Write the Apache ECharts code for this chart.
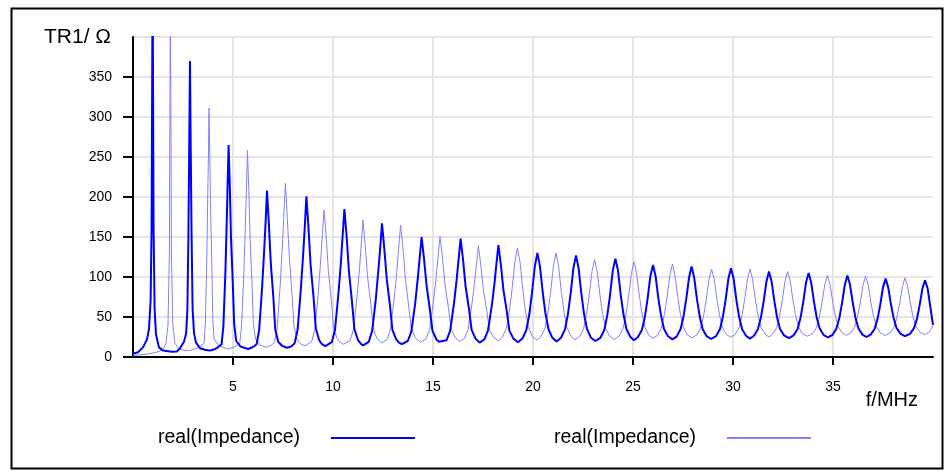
<!DOCTYPE html>
<html>
<head>
<meta charset="utf-8">
<script src="https://cdn.jsdelivr.net/npm/echarts@6/dist/echarts.min.js"></script>
<style>
html,body{margin:0;padding:0;background:#fff;}
#chart{width:946px;height:471px;}
</style>
</head>
<body>
<div id="chart"></div>
<script>
// ---- data ----
const freqTicks = [5, 10, 15, 20, 25, 30, 35];
const seriesNames = ['real(Impedance)', 'real(Impedance) '];
const yAxisTitle = 'TR1/ Ω';
const xAxisTitle = 'f/MHz';

// dark (thick) real(Impedance): [f (MHz), value (Ω)]
const darkPoints = [
[0,4],[0.25,6],[0.5,12],[0.7,22],[0.8,35],[0.88,70],[0.93,160],[0.98,480],[1.03,160],[1.08,60],[1.15,28],[1.3,12],[1.5,8],[1.93,6.5],[2.2,7],
[2.35,11],[2.55,19],[2.66,30],[2.72,60],[2.77,150],[2.81,260],[2.85,370],[2.89,250],[2.93,150],[2.98,60],[3.05,30],[3.15,18],[3.35,11],[3.6,9],[3.83,8],[4.0,9],
[4.18,11],[4.43,16],[4.52,39],[4.62,106],[4.68,162],[4.73,214],[4.78,265],[4.84,214],[4.9,148],[4.99,92],[5.06,41],[5.16,20],[5.38,13],[5.76,10],
[6.0,12.5],[6.18,16],[6.31,34],[6.45,85],[6.55,129],[6.63,168],[6.7,208],[6.79,168],[6.89,117],[7.02,74],[7.11,35],[7.26,19],[7.45,14],[7.7,11.5],
[7.9,13],[8.08,17],[8.23,34],[8.39,84],[8.5,125],[8.59,163],[8.67,201],[8.77,163],[8.88,115],[9.03,74],[9.14,36],[9.31,21],[9.45,16],[9.62,13.5],
[9.94,18.5],[10.1,34],[10.27,79],[10.39,116],[10.48,151],[10.57,185],[10.68,151],[10.8,106],[10.95,69],[11.07,35],[11.25,21],[11.38,17],[11.5,14.5],
[11.79,19],[11.96,33],[12.14,72],[12.26,106],[12.36,136],[12.45,167],[12.56,137],[12.69,97],[12.85,64],[12.97,34],[13.16,22],[13.3,18],[13.45,16],
[13.74,20],[13.92,32],[14.11,67],[14.23,96],[14.33,123],[14.43,150],[14.55,123],[14.68,89],[14.84,60],[14.97,33],[15.17,22],[15.3,19],[15.4,17],
[15.68,21],[15.86,33],[16.05,67],[16.18,96],[16.28,122],[16.38,148],[16.5,122],[16.63,88],[16.8,60],[16.93,34],[17.13,23],[17.33,18],
[17.57,22],[17.75,33],[17.94,64],[18.07,91],[18.17,116],[18.27,140],[18.39,116],[18.52,84],[18.69,57],[18.82,33],[19.02,23],[19.25,18.5],
[19.47,23],[19.67,34],[19.82,54],[19.95,80],[20.09,113],[20.22,130],[20.35,113],[20.49,80],[20.62,55],[20.77,35],[20.97,24],[21.18,19.5],
[21.4,24],[21.6,34.5],[21.75,54],[21.88,79],[22.02,111],[22.15,127],[22.28,111],[22.42,79],[22.55,54],[22.7,35],[22.9,24],[23.12,20],
[23.37,24],[23.57,34],[23.72,53],[23.85,77],[23.99,108],[24.12,123],[24.25,108],[24.39,77],[24.52,54],[24.67,35],[24.87,25],[25.05,21],
[25.25,25],[25.45,34],[25.6,51],[25.73,73],[25.87,101],[26.0,115],[26.13,101],[26.27,73],[26.4,52],[26.55,35],[26.75,26],[26.97,22],
[27.18,25.5],[27.38,35],[27.53,51],[27.66,72],[27.8,99],[27.93,113],[28.06,99],[28.2,72],[28.33,51.5],[28.48,35],[28.68,26],[28.9,22.5],
[29.15,26],[29.35,35],[29.5,51],[29.63,71],[29.77,98],[29.9,111],[30.03,98],[30.17,71],[30.3,51],[30.45,35],[30.65,26.5],[30.85,23],
[31.05,26.5],[31.25,35],[31.4,50],[31.53,69],[31.67,94],[31.8,107],[31.93,94.5],[32.07,69.5],[32.2,50],[32.35,35],[32.55,27],[32.8,23.5],
[33.03,27],[33.23,35],[33.38,49.5],[33.51,68],[33.65,93],[33.78,105],[33.91,93],[34.05,69],[34.18,50],[34.33,36],[34.53,27.5],[34.74,24.5],
[34.97,27.5],[35.17,35.5],[35.32,49],[35.45,67],[35.59,90],[35.72,102],[35.85,90.5],[35.99,67.5],[36.12,49.5],[36.27,36],[36.47,28],[36.67,25],
[36.88,28],[37.08,35],[37.23,48],[37.36,65],[37.5,87],[37.63,98],[37.76,87],[37.9,65.5],[38.03,49],[38.18,36],[38.38,29],[38.6,26],
[38.85,29],[39.05,36],[39.2,48],[39.33,64.5],[39.47,85.5],[39.6,96],[39.73,86],[39.87,62],[40,40]
];

// light (thin) real(Impedance): [f (MHz), value (Ω)]
const lightPoints = [
[0,2],[0.5,3],[1.0,5],[1.3,7],[1.5,10],[1.65,17],[1.75,40],[1.82,130],[1.87,470],[1.92,130],[1.99,40],[2.1,17],[2.3,10],[2.55,8.5],[2.83,8],
[3.3,12],[3.55,17],[3.62,44],[3.69,123],[3.73,190],[3.77,250],[3.8,311],[3.84,251],[3.89,172],[3.95,106],[3.99,46],[4.06,22],[4.3,14],[4.76,10],
[5.1,13],[5.34,17],[5.43,40],[5.54,104],[5.61,159],[5.67,208],[5.72,258],[5.79,209],[5.86,145],[5.95,91],[6.02,41.5],[6.13,22],[6.35,15],[6.67,12],
[6.9,14.5],[7.07,18],[7.21,36.5],[7.36,90],[7.46,135],[7.54,176],[7.62,217],[7.71,176],[7.82,124],[7.95,79],[8.05,38],[8.2,22],[8.4,16],[8.6,14],
[8.93,19],[9.09,34],[9.26,79],[9.37,116],[9.46,150],[9.55,184],[9.66,150],[9.77,107],[9.92,70],[10.03,36],[10.21,23],[10.35,18.5],[10.52,16],
[10.86,20.5],[11.02,34.5],[11.2,75],[11.32,109],[11.41,140],[11.5,171],[11.61,140],[11.73,100],[11.89,67],[12.01,36],[12.19,23.5],[12.32,20],[12.44,17.5],
[12.71,22],[12.88,35],[13.06,73.5],[13.19,106],[13.28,135.5],[13.38,165],[13.5,136],[13.62,97.5],[13.78,65],[13.91,36],[14.1,24.5],[14.36,18.5],
[14.65,22.5],[14.83,34.5],[15.02,69],[15.15,98],[15.25,124.5],[15.35,151],[15.47,125],[15.6,90.5],[15.77,61.5],[15.9,35],[16.1,25],[16.3,19.5],
[16.57,23],[16.75,34],[16.94,65],[17.07,91],[17.17,115],[17.27,139],[17.39,115],[17.52,84],[17.69,58],[17.82,34],[18.02,25],[18.26,20],
[18.47,24.5],[18.67,36],[18.82,57],[18.95,84],[19.09,118.5],[19.22,136],[19.35,119],[19.49,84],[19.62,58],[19.77,37],[19.97,25.5],[20.2,21],
[20.4,25.5],[20.6,36],[20.75,56],[20.88,81],[21.02,113.5],[21.15,130],[21.28,113.5],[21.42,81],[21.55,56],[21.7,36.5],[21.9,26],[22.1,21.5],
[22.33,25.5],[22.53,35.5],[22.68,54],[22.81,77],[22.95,107],[23.08,122],[23.21,107],[23.35,77],[23.48,54],[23.63,36],[23.83,26],[24.05,22],
[24.3,26],[24.5,35.5],[24.65,53],[24.78,75.5],[24.92,104.5],[25.05,119],[25.18,104.5],[25.32,76],[25.45,54],[25.6,37],[25.8,27],[26.0,23.5],
[26.22,27],[26.42,36.5],[26.57,53],[26.7,74.5],[26.84,102],[26.97,116],[27.1,102],[27.24,74.5],[27.37,53.5],[27.52,37],[27.72,27.5],[27.95,24],
[28.18,27.5],[28.38,36],[28.53,51.5],[28.66,71],[28.8,97],[28.93,110],[29.06,97],[29.2,71.5],[29.33,52],[29.48,36.5],[29.68,28],[29.9,24.5],
[30.1,28],[30.3,36.5],[30.45,52],[30.58,71.5],[30.72,97],[30.85,110],[30.98,97],[31.12,72],[31.25,52],[31.4,37],[31.6,28.5],[31.8,25],
[31.98,28.5],[32.18,36.5],[32.33,51],[32.46,70],[32.6,94.5],[32.73,107],[32.86,95],[33.0,70.5],[33.13,52],[33.28,37.5],[33.48,29],[33.72,26],
[33.97,29],[34.17,36.5],[34.32,50],[34.45,68],[34.59,90.5],[34.72,102],[34.85,91],[34.99,68],[35.12,51],[35.27,37.5],[35.47,30],[35.67,27],
[35.88,30],[36.08,37.5],[36.23,50.5],[36.36,67.5],[36.5,90],[36.63,101],[36.76,90],[36.9,67.5],[37.03,50.5],[37.18,37.5],[37.38,30],[37.6,27],
[37.85,30],[38.05,37],[38.2,50],[38.33,66.5],[38.47,88],[38.6,99],[38.73,88.5],[38.87,67],[39.0,50.5],[39.15,38],[39.35,31],[39.57,28],[39.8,31],[40,39]
];

const chart = echarts.init(document.getElementById('chart'), null, {renderer: 'canvas'});
const FONT = 'Liberation Sans, Arial, sans-serif';
const gridColor = '#e4e4e4';

const option = {
  animation: false,
  backgroundColor: '#ffffff',
  textStyle: {fontFamily: FONT},
  grid: {left: 133, right: 13, top: 37, bottom: 114, containLabel: false},
  xAxis: {
    type: 'value', min: 0, max: 40, interval: 5,
    axisLine: {show: true, lineStyle: {color: '#000', width: 2}},
    axisTick: {show: true, customValues: freqTicks, length: 8, lineStyle: {color: '#000', width: 2}},
    axisLabel: {customValues: freqTicks, margin: 23, fontSize: 14, color: '#000', fontFamily: FONT},
    splitLine: {show: true, lineStyle: {color: gridColor, width: 2}},
    name: xAxisTitle, nameLocation: 'end', nameGap: 0,
    nameTextStyle: {fontSize: 20, color: '#000', fontFamily: FONT, align: 'right', verticalAlign: 'top', padding: [33, 15, 0, 0]}
  },
  yAxis: {
    type: 'value', min: 0, max: 400, interval: 50,
    axisLine: {show: true, lineStyle: {color: '#000', width: 2}},
    axisTick: {show: true, length: 10, lineStyle: {color: '#000', width: 2}},
    axisLabel: {showMaxLabel: false, margin: 21, fontSize: 14, color: '#000', fontFamily: FONT},
    splitLine: {show: true, lineStyle: {color: gridColor, width: 2}},
    name: yAxisTitle, nameLocation: 'end', nameGap: 0,
    nameTextStyle: {fontSize: 21, color: '#000', fontFamily: FONT, align: 'right', verticalAlign: 'middle', padding: [0, 22, 0, 0]}
  },
  legend: {
    data: seriesNames,
    left: 153, top: 423, padding: 5,
    orient: 'horizontal', align: 'right',
    itemWidth: 84, itemHeight: 14, itemGap: 138,
    itemStyle: {color: 'transparent', borderColor: 'transparent', borderWidth: 0, opacity: 0},
    formatter: function (n) { return '{t|' + n.trim() + '}'; },
    textStyle: {color: '#000', fontSize: 19.5, fontFamily: FONT,
      rich: {t: {fontSize: 19.5, color: '#000', fontFamily: FONT, padding: [0, 26, 0, 0]}}}
  },
  graphic: [{
    type: 'rect', left: 9, top: 6, silent: true,
    shape: {x: 0, y: 0, width: 931, height: 460},
    style: {fill: null, stroke: '#000', lineWidth: 2}
  }],
  series: [
    {name: seriesNames[0], type: 'line', data: darkPoints, symbol: 'none', showSymbol: false,
      clip: true, z: 3, lineStyle: {color: '#0000ff', width: 2}, itemStyle: {color: '#0000ff'}},
    {name: seriesNames[1], type: 'line', data: lightPoints, symbol: 'none', showSymbol: false,
      clip: true, z: 2, lineStyle: {color: '#8080ff', width: 1}, itemStyle: {color: '#8080ff'}}
  ]
};
chart.setOption(option);
</script>
</body>
</html>
